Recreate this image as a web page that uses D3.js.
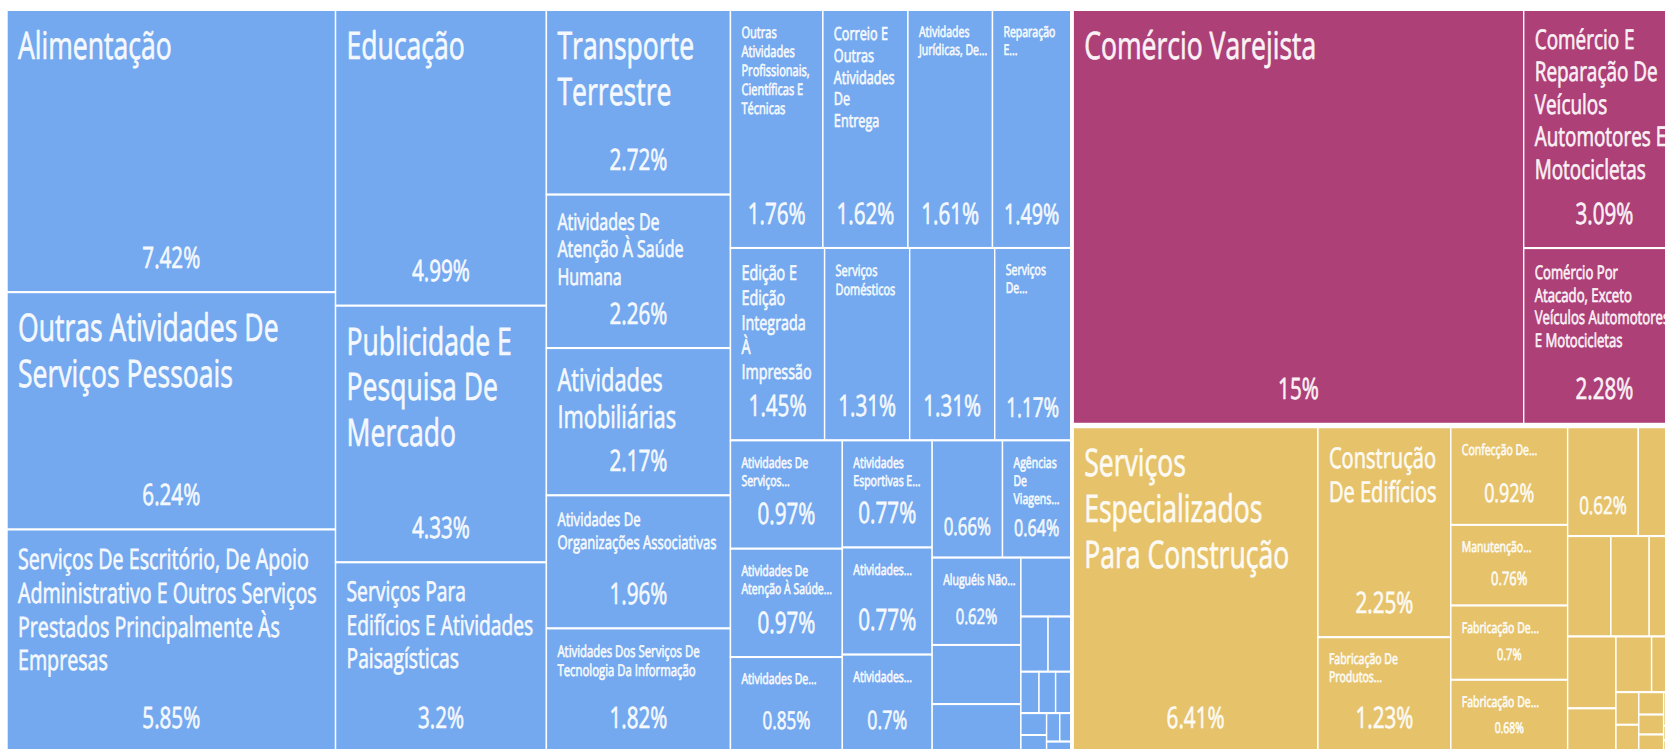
<!DOCTYPE html>
<html>
<head>
<meta charset="utf-8">
<script src="https://cdnjs.cloudflare.com/ajax/libs/d3/7.8.5/d3.min.js"></script>
<style>
  html, body { margin: 0; padding: 0; overflow: hidden; background: #fff; }
  svg { display: block; }
  svg text { text-rendering: geometricPrecision; }
</style>
</head>
<body>
<div id="chart"></div>
<script>
// sectors
var groupNames = ["Serviços", "Comércio", "Indústria E Construção"];
var groupColors = ["#74a9ef", "#ae4078", "#e6c36a"];

var servicosNomes = [
  "Alimentação",
  "Outras Atividades De Serviços Pessoais",
  "Serviços De Escritório, De Apoio Administrativo E Outros Serviços Prestados Principalmente Às Empresas",
  "Educação",
  "Publicidade E Pesquisa De Mercado",
  "Serviços Para Edifícios E Atividades Paisagísticas",
  "Transporte Terrestre",
  "Atividades De Atenção À Saúde Humana",
  "Atividades Imobiliárias",
  "Atividades De Organizações Associativas",
  "Atividades Dos Serviços De Tecnologia Da Informação",
  "Outras Atividades Profissionais, Científicas E Técnicas",
  "Correio E Outras Atividades De Entrega",
  "Atividades Jurídicas, De Contabilidade E De Auditoria",
  "Reparação E Manutenção De Equipamentos De Informática E Comunicação E De Objetos Pessoais E Domésticos",
  "Edição E Edição Integrada À Impressão",
  "Serviços Domésticos",
  "Armazenamento E Atividades Auxiliares Dos Transportes",
  "Serviços De Arquitetura E Engenharia; Testes E Análises Técnicas",
  "Atividades De Serviços Financeiros",
  "Atividades De Atenção À Saúde Humana Integradas Com Assistência Social",
  "Atividades De Sedes De Empresas E De Consultoria Em Gestão Empresarial",
  "Atividades Esportivas E De Recreação E Lazer",
  "Atividades Cinematográficas, Produção De Vídeos E De Programas De Televisão",
  "Atividades Artísticas, Criativas E De Espetáculos",
  "Telecomunicações",
  "Agências De Viagens, Operadores Turísticos E Serviços De Reservas",
  "Aluguéis Não Imobiliários E Gestão De Ativos Intangíveis Não Financeiros",
  "Alojamento",
  "Seleção, Agenciamento E Locação De Mão De Obra",
  "Atividades Auxiliares Dos Serviços Financeiros, Seguros E Previdência Complementar",
  "Atividades Veterinárias",
  "Atividades De Prestação De Serviços De Informação",
  "Atividades De Vigilância, Segurança E Investigação",
  "Transporte Aéreo",
  "Atividades De Rádio E De Televisão",
  "Pesquisa E Desenvolvimento Científico",
  "Atividades Ligadas Ao Patrimônio Cultural E Ambiental",
  "Seguros, Resseguros, Previdência Complementar E Planos De Saúde",
  "Transporte Aquaviário",
  "Atividades De Exploração De Jogos De Azar E Apostas"
];
var servicosValores = [
  7.42, 6.24, 5.85, 4.99, 4.33, 3.2, 2.72, 2.26, 2.17, 1.96, 1.82,
  1.76, 1.62, 1.61, 1.49, 1.45, 1.31, 1.31, 1.17, 0.97, 0.97, 0.85,
  0.77, 0.77, 0.7, 0.66, 0.64, 0.62, 0.42, 0.34, 0.235, 0.12, 0.1,
  0.06, 0.055, 0.05, 0.045, 0.035, 0.03, 0.025, 0.02
];

var comercioNomes = [
  "Comércio Varejista",
  "Comércio E Reparação De Veículos Automotores E Motocicletas",
  "Comércio Por Atacado, Exceto Veículos Automotores E Motocicletas"
];
var comercioValores = [15, 3.09, 2.28];

var industriaNomes = [
  "Serviços Especializados Para Construção",
  "Construção De Edifícios",
  "Fabricação De Produtos Farmoquímicos E Farmacêuticos",
  "Confecção De Artigos Do Vestuário E Acessórios",
  "Manutenção, Reparação E Instalação De Máquinas E Equipamentos",
  "Fabricação De Produtos De Metal, Exceto Máquinas E Equipamentos",
  "Fabricação De Máquinas E Equipamentos",
  "Eletricidade, Gás E Outras Utilidades",
  "Obras De Infraestrutura",
  "Impressão E Reprodução De Gravações",
  "Fabricação De Móveis",
  "Fabricação De Produtos De Minerais Não Metálicos",
  "Fabricação De Produtos De Madeira",
  "Fabricação De Bebidas",
  "Fabricação De Artigos De Borracha E De Material Plástico",
  "Fabricação De Produtos Diversos",
  "Captação, Tratamento E Distribuição De Água",
  "Preparação De Couros E Fabricação De Artefatos De Couro",
  "Fabricação De Produtos Têxteis",
  "Coleta, Tratamento E Disposição De Resíduos",
  "Fabricação De Produtos Químicos",
  "Metalurgia",
  "Fabricação De Máquinas, Aparelhos E Materiais Elétricos",
  "Extração De Minerais Não Metálicos",
  "Esgoto E Atividades Relacionadas"
];
var industriaValores = [
  6.41, 2.25, 1.23, 0.92, 0.76, 0.7, 0.68, 0.62, 0.41, 0.35, 0.31, 0.29,
  0.28, 0.17, 0.16, 0.15, 0.06, 0.05, 0.045, 0.04, 0.035, 0.03, 0.028,
  0.025, 0.02
];

var groupLeaves = [
  [servicosNomes, servicosValores],
  [comercioNomes, comercioValores],
  [industriaNomes, industriaValores]
];

// layout is built in a stretched space and squeezed horizontally
var stretch = 1.43;
var W = 1678, H = 742, X0 = 7, Y0 = 10;
var LW = W * stretch;
var FONT = "'Open Sans', 'Noto Sans', sans-serif";

var tree = {
  name: "root",
  children: groupNames.map(function (g, i) {
    return {
      name: g,
      color: groupColors[i],
      children: groupLeaves[i][0].map(function (n, j) {
        return {name: n, value: groupLeaves[i][1][j]};
      })
    };
  })
};

var root = d3.hierarchy(tree)
  .sum(function (d) { return d.value || 0; })
  .sort(function (a, b) { return b.value - a.value; });

d3.treemap()
  .tile(d3.treemapSquarify)
  .size([LW, H])
  .paddingInner(function (d) { return d.depth === 0 ? 3.5 : 0; })
  (root);

var svg = d3.select("#chart").append("svg")
  .attr("width", 1700)
  .attr("height", 760);

var g = svg.append("g")
  .attr("transform", "translate(" + X0 + "," + Y0 + ") scale(" + (1 / stretch) + ",1)");

// measure with a real svg text so widths match what is drawn
var meas = g.append("text")
  .attr("visibility", "hidden")
  .style("font-family", FONT)
  .style("font-size", "100px");
var widthCache = {};
function textW(str, fs) {
  if (!(str in widthCache)) {
    meas.text(str);
    widthCache[str] = meas.node().getComputedTextLength();
  }
  return widthCache[str] * fs / 100;
}

var padL = 11 * stretch, padW = 12 * stretch, padPct = 11.5 * stretch;
var fsMax = 38, fsMin = 15, lh = 1.2, topOff = 10;

function maxLines(fs, availH, gap) {
  return Math.floor((availH - topOff - gap - lh * fs) / (lh * fs)) + 1;
}

function wrap(words, fs, maxW) {
  var lines = [], cur = "";
  for (var i = 0; i < words.length; i++) {
    if (textW(words[i], fs) > maxW) return null;
    var t = cur ? cur + " " + words[i] : words[i];
    if (textW(t, fs) <= maxW) cur = t;
    else { lines.push(cur); cur = words[i]; }
  }
  if (cur) lines.push(cur);
  return lines;
}

function fitLabel(name, maxW, availH, gap) {
  var words = name.split(" ");
  // first guess from the area the text would need
  var boxH = availH - topOff - gap;
  var start = fsMax;
  if (boxH > 0) {
    var areaMod = 1.165 + maxW / boxH * 0.1;
    var need = textW(name, 1) * lh * areaMod;
    start = Math.min(fsMax, Math.sqrt(maxW * boxH / need));
  }
  for (var fs = start; fs >= fsMin; fs -= 0.5) {
    var lines = wrap(words, fs, maxW);
    if (lines && lines.length <= maxLines(fs, availH, gap)) return {fs: fs, lines: lines};
  }
  // truncate at the smallest size
  fs = fsMin;
  var ml = maxLines(fs, availH, gap);
  if (ml < 1) return null;
  var out = [], cur = "", cut = false;
  for (var i = 0; i < words.length; i++) {
    if (textW(words[i], fs) > maxW) { cut = true; break; }
    var t = cur ? cur + " " + words[i] : words[i];
    if (textW(t, fs) <= maxW) cur = t;
    else {
      out.push(cur);
      cur = "";
      if (out.length >= ml) { cut = true; break; }
      cur = words[i];
    }
  }
  if (cur) out.push(cur);
  if (!out.length) return null;
  if (cut) out[out.length - 1] = out[out.length - 1].replace(/[,;]$/, "") + "...";
  return {fs: fs, lines: out};
}

function fmt(v) { return (+v.toFixed(2)) + "%"; }

var leaf = g.selectAll("g.leaf")
  .data(root.leaves())
  .join("g")
  .attr("class", "leaf");

leaf.append("rect")
  .attr("x", function (d) { return d.x0; })
  .attr("y", function (d) { return d.y0; })
  .attr("width", function (d) { return d.x1 - d.x0; })
  .attr("height", function (d) { return d.y1 - d.y0; })
  .attr("fill", function (d) { return d.parent.data.color; })
  .attr("stroke", "#fff")
  .attr("stroke-width", 2);

function styleText(sel, fs) {
  sel.style("font-family", FONT)
    .style("font-size", fs + "px")
    .attr("fill", "#fff")
    .attr("stroke", "#fff")
    .attr("stroke-width", 0.7)
    .attr("opacity", 0.93);
}

leaf.each(function (d) {
  var w = d.x1 - d.x0, h = d.y1 - d.y0;
  var pct = fmt(d.data.value);
  var pfs = Math.min(29.5, 0.42 * h - 15.4, (w - 2 * padPct) / textW(pct, 1));
  if (pfs < 13) return;
  var node = d3.select(this);
  var pBase = d.y1 - (14 + 0.35 * pfs);
  node.append("text")
    .attr("x", (d.x0 + d.x1) / 2)
    .attr("y", pBase)
    .attr("text-anchor", "middle")
    .call(styleText, pfs)
    .text(pct);

  var pTop = pBase - 0.72 * pfs;
  var lab = fitLabel(d.data.name, w - 2 * padW, pTop - d.y0, 0.45 * pfs);
  if (!lab) return;
  var t = node.append("text").call(styleText, lab.fs);
  lab.lines.forEach(function (line, i) {
    t.append("tspan")
      .attr("x", d.x0 + padL)
      .attr("y", d.y0 + 13 + 0.95 * lab.fs + i * lh * lab.fs)
      .text(line);
  });
});

meas.remove();
</script>
</body>
</html>
